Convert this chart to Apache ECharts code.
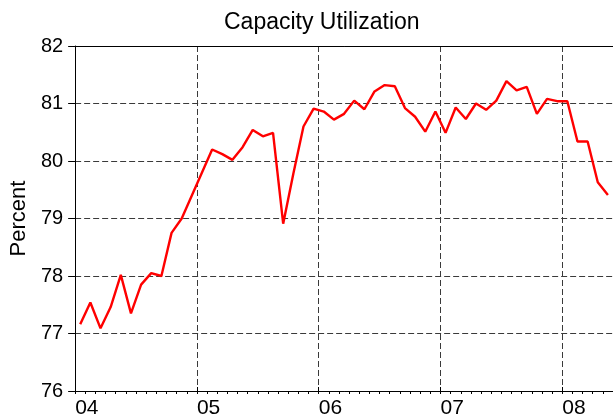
<!DOCTYPE html>
<html><head><meta charset="utf-8">
<script src="https://cdn.jsdelivr.net/npm/echarts@6/dist/echarts.min.js"></script>
<style>html,body{margin:0;padding:0;background:#fff}#c{width:613px;height:419px}</style>
</head><body><div id="c"></div>
<script>
const chartTitle = 'Capacity Utilization';
const yAxisName = 'Percent';
const yearTickLabels = ['04', '05', '06', '07', '08'];
const yMin = 76, yMax = 82;
// monthly values, Jan 2004 .. May 2008
const values2004 = [77.16, 77.54, 77.09, 77.46, 78.02, 77.35, 77.85, 78.05, 78.00, 78.75, 79.00, 79.40];
const values2005 = [79.80, 80.20, 80.12, 80.02, 80.24, 80.54, 80.43, 80.49, 78.91, 79.78, 80.60, 80.91];
const values2006 = [80.86, 80.72, 80.82, 81.05, 80.90, 81.21, 81.32, 81.30, 80.92, 80.77, 80.51, 80.86];
const values2007 = [80.49, 80.93, 80.73, 81.00, 80.89, 81.05, 81.39, 81.23, 81.29, 80.82, 81.08, 81.04];
const values2008 = [81.04, 80.34, 80.34, 79.63, 79.41];

const allValues = [].concat(values2004, values2005, values2006, values2007, values2008);
// x = month index from Jan 2004, plotted at mid-month
const seriesData = allValues.map((v, i) => [i + 0.5, v]);
const xMax = 53;

const FONT = "'Liberation Sans', Arial, sans-serif";
const gridLine = { show: true, lineStyle: { color: '#3a3a3a', width: 1, type: [6, 3] } };

const chart = echarts.init(document.getElementById('c'), null, { renderer: 'canvas' });
chart.setOption({
  animation: false,
  backgroundColor: '#fff',
  title: {
    text: chartTitle, left: 219, top: 6,
    textStyle: { fontFamily: FONT, fontSize: 23, fontWeight: 'normal', color: '#000' }
  },
  grid: { left: 67, right: 0, top: 46, bottom: 27, containLabel: false },
  xAxis: [
    {
      type: 'value', min: 0, max: xMax, interval: 12, position: 'bottom',
      axisLine: { show: true, lineStyle: { color: '#000', width: 1 } },
      axisTick: { show: true, inside: true, length: 4, lineStyle: { color: '#000' } },
      axisLabel: {
        show: true, showMaxLabel: false, align: 'left', margin: 7,
        fontFamily: FONT, fontSize: 21, color: '#000',
        formatter: v => (v % 12 === 0 ? (yearTickLabels[v / 12] || '') : '')
      },
      splitLine: gridLine
    },
    {
      type: 'value', min: 0, max: xMax, interval: 12, position: 'bottom',
      axisLine: { show: false },
      axisTick: { show: true, inside: false, length: 3, lineStyle: { color: '#000' } },
      minorTick: { show: true, splitNumber: 12, length: 3, lineStyle: { color: '#000' } },
      axisLabel: { show: false },
      splitLine: { show: false }
    },
    {
      type: 'value', min: 0, max: xMax, position: 'top',
      axisLine: { show: true, lineStyle: { color: '#000', width: 1 } },
      axisTick: { show: false }, axisLabel: { show: false }, splitLine: { show: false }
    }
  ],
  yAxis: {
    type: 'value', min: yMin, max: yMax, interval: 1,
    name: yAxisName, nameLocation: 'middle', nameGap: 40,
    nameTextStyle: { fontFamily: FONT, fontSize: 22, color: '#000' },
    axisLine: { show: true, lineStyle: { color: '#000', width: 1 } },
    axisTick: { show: true, inside: false, length: 7, lineStyle: { color: '#000' } },
    axisLabel: { margin: 12, fontFamily: FONT, fontSize: 20, color: '#000' },
    splitLine: gridLine
  },
  series: [{
    type: 'line', xAxisIndex: 0, data: seriesData,
    showSymbol: false, symbol: 'none',
    lineStyle: { color: '#ff0000', width: 2.4 }
  }]
});
</script></body></html>
